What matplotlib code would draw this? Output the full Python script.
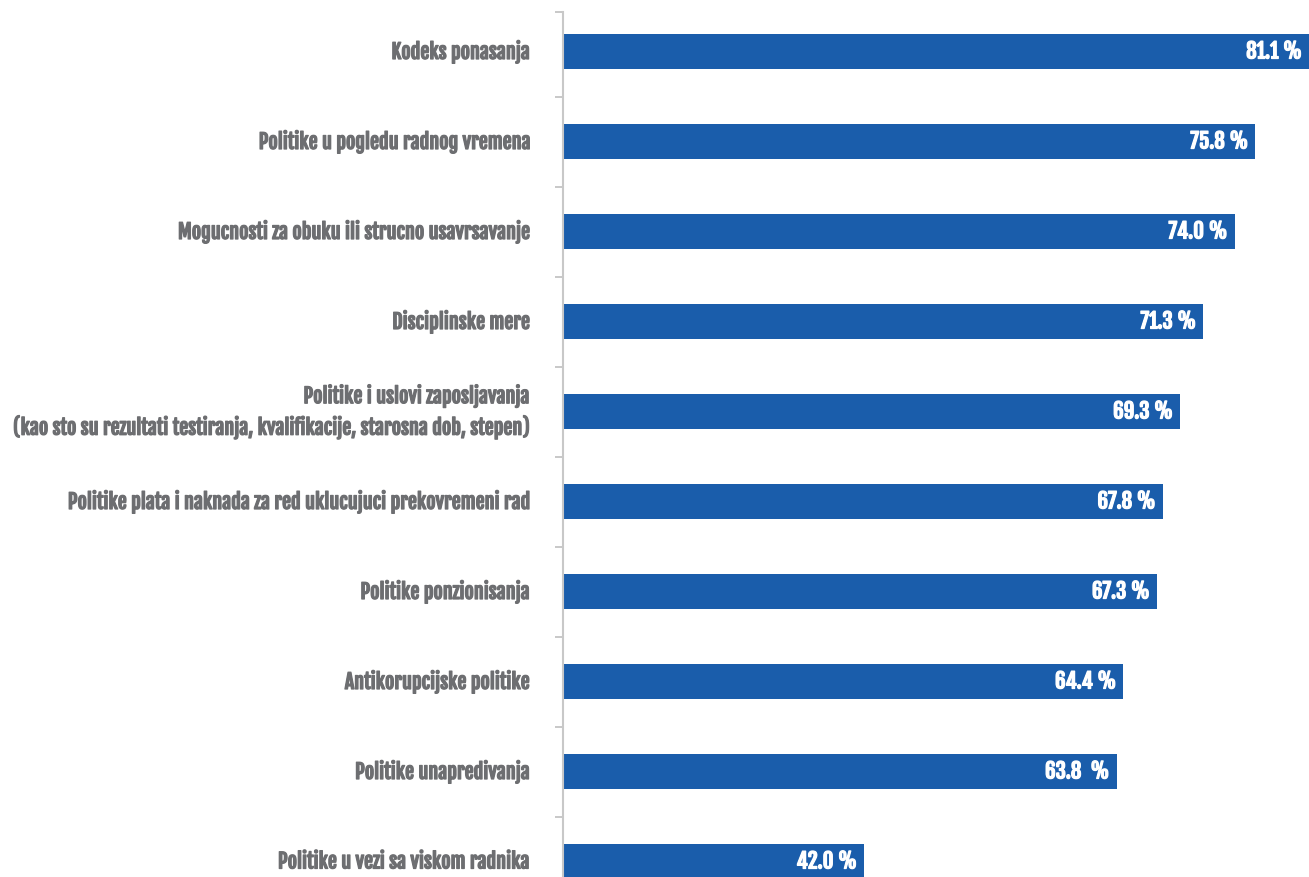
import matplotlib.pyplot as plt
import matplotlib.patheffects as pe

categories = [
    'Kodeks ponasanja',
    'Politike u pogledu radnog vremena',
    'Mogucnosti za obuku ili strucno usavrsavanje',
    'Disciplinske mere',
    'Politike i uslovi zaposljavanja\n(kao sto su rezultati testiranja, kvalifikacije, starosna dob, stepen)',
    'Politike plata i naknada za red uklucujuci prekovremeni rad',
    'Politike ponzionisanja',
    'Antikorupcijske politike',
    'Politike unapredivanja',
    'Politike u vezi sa viskom radnika',
]
values = [81.1, 75.8, 74.0, 71.3, 69.3, 67.8, 67.3, 64.4, 63.8, 42.0]
value_labels = ['81.1 %', '75.8 %', '74.0 %', '71.3 %', '69.3 %',
                '67.8 %', '67.3 %', '64.4 %', '63.8  %', '42.0 %']

font = ['Fjalla One', 'DejaVu Sans']
grey = '#6d6e71'

W, H = 1309, 877
fig = plt.figure(figsize=(W / 100, H / 100), dpi=100)

# axes: left edge at the grey axis line, top at the first tick, bottom below the canvas
left, top = 563, 12
px_per_unit = 90.0
y0 = 51.5  # first bar centre in pixels
ytop = -(y0 - top) / px_per_unit
ybot = 9.55
ax_h = (ybot - ytop) * px_per_unit
ax = fig.add_axes([left / W, 1 - (top + ax_h) / H, (W - left) / W, ax_h / H])

pos = list(range(len(categories)))
ax.barh(pos, values, height=0.38, color='#1a5dab')
ax.set_xlim(16, 16 + (W - left) / 11.58)
ax.set_ylim(ybot, ytop)

# white value labels inside the bar ends (bolded with a thin stroke)
for p, v, lab in zip(pos, values, value_labels):
    xr = min(v, ax.get_xlim()[1])
    ax.annotate(lab, (xr, p), xytext=(-5, 0), textcoords='offset points',
                ha='right', va='center', color='white', fontsize=15,
                family=font, annotation_clip=False,
                path_effects=[pe.withStroke(linewidth=0.9, foreground='white')])

# category names to the left of the axis
for p, c in zip(pos, categories):
    ax.annotate(c, (16, p), xytext=(-24, 0), textcoords='offset points',
                ha='right', va='center', color=grey, fontsize=14.5,
                family=font, linespacing=1.45, annotation_clip=False,
                path_effects=[pe.withStroke(linewidth=0.9, foreground=grey)])

ax.set_yticks([ytop] + [p + 0.5 for p in pos[:-1]])
ax.set_yticklabels([])
ax.set_xticks([])
ax.tick_params(axis='y', direction='out', length=6, width=1.2, color='#bfbfbf')
for s in ['top', 'right', 'bottom']:
    ax.spines[s].set_visible(False)
ax.spines['left'].set_color('#c8c8c8')
ax.spines['left'].set_linewidth(1.5)

fig.savefig('out.png', dpi=100)
